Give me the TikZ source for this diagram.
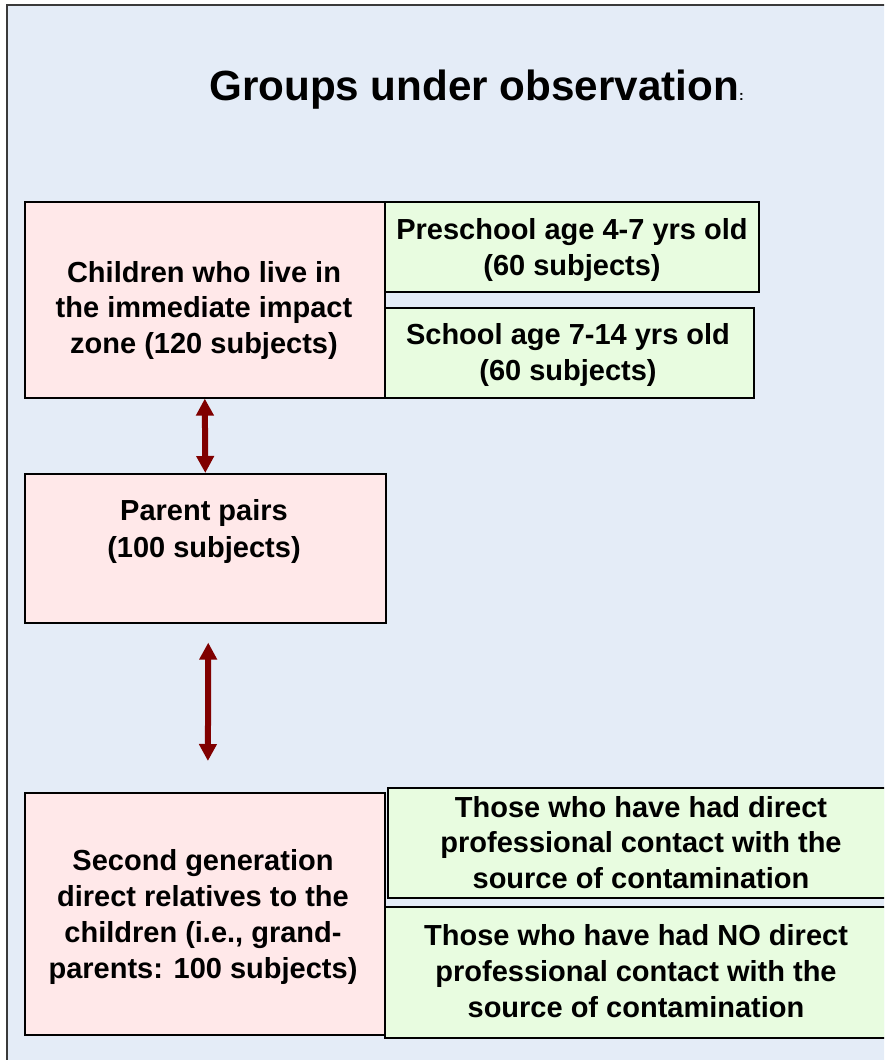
\documentclass[tikz,border=0pt]{standalone}
\usepackage{fontspec}
\setmainfont{Liberation Sans}
\usetikzlibrary{arrows.meta}

\definecolor{panelbg}{HTML}{E4ECF7}
\definecolor{framegray}{HTML}{3A3A3A}
\definecolor{groupfill}{HTML}{FFE8E9}
\definecolor{subfill}{HTML}{E8FCE0}
\definecolor{linkred}{HTML}{800000}

\tikzset{
  box/.style={draw=black, line width=1.6pt, rectangle, inner sep=0pt, anchor=north west},
  groupbox/.style={box, fill=groupfill},
  subbox/.style={box, fill=subfill},
  % anchored at the baseline of the last line
  boxtext/.style={anchor=base, align=center, inner sep=0pt,
    font=\fontsize{29}{35.5}\selectfont\bfseries},
  dblarrow/.style={draw=linkred, line width=6pt,
    {Triangle[width=17pt,length=17pt]}-{Triangle[width=17pt,length=17pt]}}
}

\begin{document}
\begin{tikzpicture}[x=1pt, y=-1pt]
  \clip (0,0) rectangle (884,1060);
  % page and panel
  \fill[white] (0,0) rectangle (884,1060);
  \fill[panelbg] (7,5) rectangle (900,1080);
  \draw[framegray, line width=2.2pt] (7,1080) -- (7,5) -- (900,5);

  % title
  \node[anchor=base west, inner sep=0pt, font=\fontsize{42.2}{48}\selectfont\bfseries]
    (title) at (209,100) {Groups under observation\fontsize{14}{16}\selectfont:};

  % group boxes
  \node[groupbox, minimum width=360pt, minimum height=196pt] (child)  at (24,201) {};
  \node[subbox,   minimum width=374pt, minimum height=90pt]  (pre)    at (384,201) {};
  \node[subbox,   minimum width=369pt, minimum height=90pt]  (school) at (384,307) {};
  \node[groupbox, minimum width=361pt, minimum height=149pt] (parent) at (24,473) {};
  \node[groupbox, minimum width=360pt, minimum height=242pt] (second) at (24,792) {};
  \node[subbox,   minimum width=503pt, minimum height=110pt] (direct) at (387,787) {};
  \node[subbox,   minimum width=506pt, minimum height=131pt] (nodirect) at (384,906) {};

  % box texts
  \node[boxtext] (childtext) at (204,353)
    {Children who live in\\the immediate impact\\zone (120 subjects)};
  \node[boxtext] (pretext) at (572,275) {Preschool age 4-7 yrs old\\(60 subjects)};
  \node[boxtext] (schooltext) at (568,380) {School age 7-14 yrs old\\(60 subjects)};
  \node[boxtext, font=\fontsize{29}{37}\selectfont\bfseries] (parenttext) at (204,557)
    {Parent pairs\\(100 subjects)};
  \node[boxtext, font=\fontsize{29}{36}\selectfont\bfseries] (secondtext) at (203,978)
    {Second generation\\direct relatives to the\\children (i.e., grand-\\parents: 100 subjects)};
  \node[boxtext] (directtext) at (641,888)
    {Those who have had direct\\professional contact with the\\source of contamination};
  \node[boxtext, font=\fontsize{29}{36}\selectfont\bfseries] (nodirecttext) at (636,1017)
    {Those who have had NO direct\\professional contact with the\\source of contamination};

  % links between generations
  \draw[dblarrow] (child.south) -- (parent.north);
  \draw[dblarrow, shorten <=19pt, shorten >=31pt]
    ([xshift=3pt]parent.south) -- ([xshift=3pt]second.north);
\end{tikzpicture}
\end{document}
